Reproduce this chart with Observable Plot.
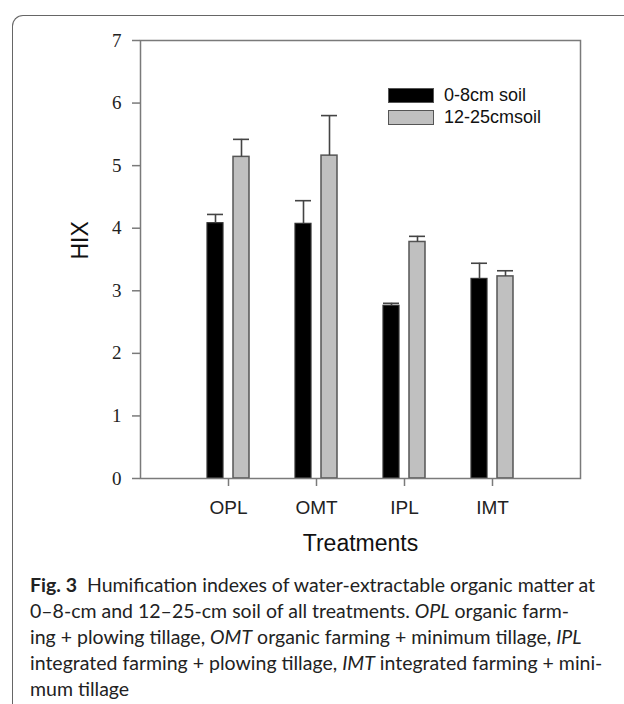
<!DOCTYPE html>
<html>
<head>
<meta charset="utf-8">
<script src="https://cdn.jsdelivr.net/npm/d3@7"></script>
<script src="https://cdn.jsdelivr.net/npm/@observablehq/plot@0.6"></script>
<style>
  html, body { margin: 0; padding: 0; background: #fff; }
  body { width: 624px; height: 704px; position: relative; overflow: hidden; }
  #frame { position: absolute; left: 12px; top: 15px; width: 700px; height: 760px;
           border-left: 1.5px solid #666; border-top: 1.5px solid #666; border-top-left-radius: 11px; }
  #chart { position: absolute; left: 0; top: 0; }
  #chart svg { display: block; }
  .legend { position: absolute; left: 388px; top: 88px; font-family: "Liberation Sans", Arial, sans-serif;
            font-size: 18px; color: #111; }
  .legend .row { position: absolute; left: 0; height: 15px; white-space: nowrap; }
  .legend .sw { position: absolute; left: 0; top: 0; width: 44px; height: 13px; border: 1px solid #555; box-sizing: content-box; }
  .legend .lab { position: absolute; left: 56px; top: -3px; line-height: 20px; }
  #caption { position: absolute; left: 30px; top: 572px; font-family: Lato, "Open Sans", sans-serif;
             font-size: 19.5px; line-height: 26px; color: #222; white-space: nowrap; }
  #caption b { font-weight: 700; }
</style>
</head>
<body>
<div id="frame"></div>
<div id="chart"></div>
<div id="caption"></div>
<script>
// ---- data ----
const treatments = ["OPL", "OMT", "IPL", "IMT"];
const depths = ["0-8cm soil", "12-25cmsoil"];
const hixShallow = [4.08, 4.07, 2.76, 3.19];   // 0-8 cm
const errShallow = [0.14, 0.37, 0.04, 0.25];
const hixDeep = [5.14, 5.16, 3.78, 3.23];      // 12-25 cm
const errDeep = [0.28, 0.64, 0.09, 0.09];
const yTicks = [0, 1, 2, 3, 4, 5, 6, 7];

const shallow = treatments.map((t, i) => ({treatment: t, depth: depths[0], hix: hixShallow[i], err: errShallow[i]}));
const deep = treatments.map((t, i) => ({treatment: t, depth: depths[1], hix: hixDeep[i], err: errDeep[i]}));

const sans = '"Liberation Sans", Arial, sans-serif';
const serif = '"Liberation Serif", "Times New Roman", serif';
const axisGray = "#7a7a7a";

// inset/offset so the pair of bars sits around each tick
const leftBar = {insetLeft: 23, insetRight: 49};
const rightBar = {insetLeft: 49, insetRight: 23};

const chart = Plot.plot({
  width: 624,
  height: 570,
  marginLeft: 140,
  marginRight: 44,
  marginTop: 40,
  marginBottom: 92,
  style: {background: "transparent", overflow: "visible"},
  x: {domain: treatments, paddingInner: 0, paddingOuter: 0.5, label: null},
  y: {domain: [0, 7], label: null},
  marks: [
    Plot.barY(shallow, {x: "treatment", y: "hix", fill: "#000", stroke: "#333", strokeWidth: 1.2, ...leftBar}),
    Plot.barY(deep, {x: "treatment", y: "hix", fill: "#c0c0c0", stroke: "#555", strokeWidth: 1.5, ...rightBar}),
    Plot.ruleX(shallow, {x: "treatment", y1: "hix", y2: d => d.hix + d.err, dx: -13, stroke: "#444", strokeWidth: 1.6}),
    Plot.ruleX(deep, {x: "treatment", y1: "hix", y2: d => d.hix + d.err, dx: 13, stroke: "#444", strokeWidth: 1.6}),
    Plot.tickY(shallow, {x: "treatment", y: d => d.hix + d.err, stroke: "#444", strokeWidth: 1.6, ...leftBar}),
    Plot.tickY(deep, {x: "treatment", y: d => d.hix + d.err, stroke: "#444", strokeWidth: 1.6, ...rightBar}),
    Plot.frame({stroke: axisGray, strokeWidth: 1.5}),
    Plot.axisY({ticks: yTicks, tickFormat: d3.format("d"), tickSize: 8, tickPadding: 11, stroke: axisGray, strokeWidth: 1.5,
                fill: "#222", fontFamily: serif, fontSize: 19, label: null}),
    Plot.axisX({tickSize: 8, tickPadding: 14, stroke: axisGray, strokeWidth: 1.5,
                fill: "#222", fontFamily: sans, fontSize: 19, label: null}),
    Plot.text(["HIX"], {frameAnchor: "left", dx: -60, rotate: -90, fontFamily: sans, fontSize: 23, fill: "#111"}),
    Plot.text(["Treatments"], {frameAnchor: "bottom", dy: 72, fontFamily: sans, fontSize: 23, fill: "#111"})
  ]
});
document.getElementById("chart").appendChild(chart);

// legend (inside plot, top right)
const legend = document.createElement("div");
legend.className = "legend";
const swatchFills = ["#000", "#c0c0c0"];
depths.forEach((d, i) => {
  const row = document.createElement("div");
  row.className = "row";
  row.style.top = (i * 22) + "px";
  row.innerHTML = `<div class="sw" style="background:${swatchFills[i]}"></div><div class="lab">${d}</div>`;
  legend.appendChild(row);
});
document.body.appendChild(legend);

// caption
const captionLines = [
  '<b>Fig. 3</b>&nbsp; Humification indexes of water-extractable organic matter at',
  '0–8-cm and 12–25-cm soil of all treatments. <i>OPL</i> organic farm-',
  'ing + plowing tillage, <i>OMT</i> organic farming + minimum tillage, <i>IPL</i>',
  'integrated farming + plowing tillage, <i>IMT</i> integrated farming + mini-',
  'mum tillage'
];
document.getElementById("caption").innerHTML = captionLines.join("<br>");
</script>
</body>
</html>
